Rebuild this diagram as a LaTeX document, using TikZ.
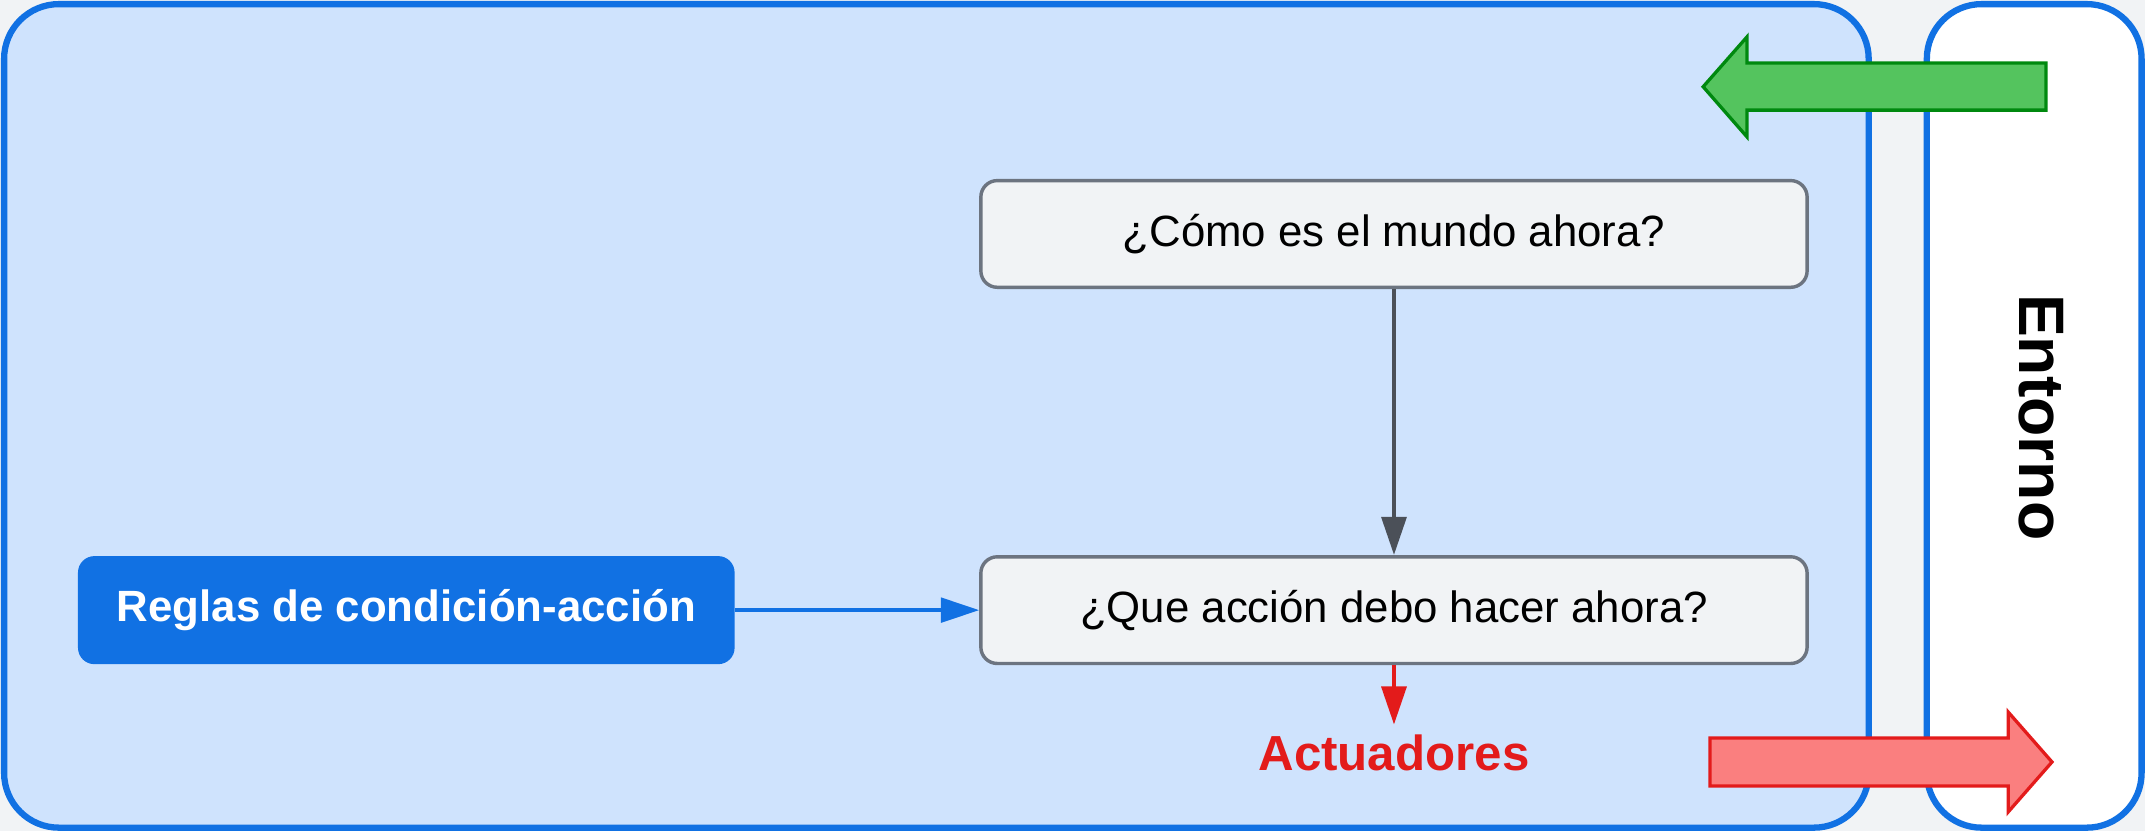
\documentclass[tikz,border=0pt]{standalone}
\usepackage{fontspec}
\setmainfont{Liberation Sans}
\usetikzlibrary{arrows.meta, positioning}
\definecolor{fondo}{HTML}{F1F3F5}
\definecolor{celeste}{HTML}{CFE3FD}
\definecolor{azul}{HTML}{1171E3}
\definecolor{borde}{HTML}{6C7480}
\definecolor{gris}{HTML}{4B5058}
\definecolor{rojo}{HTML}{E31B1B}
\definecolor{rosa}{HTML}{FA7F7F}
\definecolor{verde}{HTML}{00890F}
\definecolor{verdeclaro}{HTML}{54C45E}

\begin{document}
\begin{tikzpicture}[x=0.5pt, y=-0.5pt,
  marco/.style={draw=azul, line width=2.3pt, rounded corners=20pt},
  caja/.style={draw=borde, fill=fondo, line width=1.25pt, rounded corners=6pt,
    minimum width=302pt, minimum height=39pt, font=\fontsize{16}{19}\selectfont},
  flecha/.style={line width=1.7pt, -{Triangle[length=14pt, width=9pt]}}]
\fill[fondo] (0,0) rectangle (1568,607.5);
\useasboundingbox (0,0) rectangle (1568,607.5);
\node (agente)[marco, fill=celeste, minimum width=681.5pt, minimum height=301pt] at (684.5,304) {};
\node (entorno)[marco, fill=white, minimum width=78.5pt, minimum height=301pt] at (1487,304) {};
\node (entornotxt)[rotate=-90, font=\fontsize{23.5}{28}\selectfont\bfseries] at (1492,305) {Entorno};
\node (mundo)[caja] at (1019,171) {¿Cómo es el mundo ahora?};
\node (accion)[caja] at (1019,446) {¿Que acción debo hacer ahora?};
\node (reglas)[fill=azul, text=white, rounded corners=6pt, minimum width=240pt, minimum height=39.5pt,
  font=\fontsize{16}{19}\selectfont\bfseries] at (297,446) {Reglas de condición-acción};
\node (actuadores)[text=rojo, font=\fontsize{18}{21}\selectfont\bfseries] at (1019,550) {Actuadores};
\draw[flecha, gris] (mundo) -- (accion);
\draw[flecha, azul, line width=1.3pt] (reglas.east) -- (accion.west);
\draw[flecha, rojo] (accion) -- (actuadores);
% flechas de percepcion y accion
\draw[draw=verde, fill=verdeclaro, line width=1.2pt] (1495.6,46) -- (1277,46) -- (1277,27) -- (1245,63.4)
  -- (1277,100) -- (1277,80.5) -- (1495.6,80.5) -- cycle;
\draw[draw=rojo, fill=rosa, line width=1.2pt] (1250,539.5) -- (1468,539.5) -- (1468,520.5) -- (1500,557)
  -- (1468,593.5) -- (1468,574.5) -- (1250,574.5) -- cycle;
\end{tikzpicture}
\end{document}
